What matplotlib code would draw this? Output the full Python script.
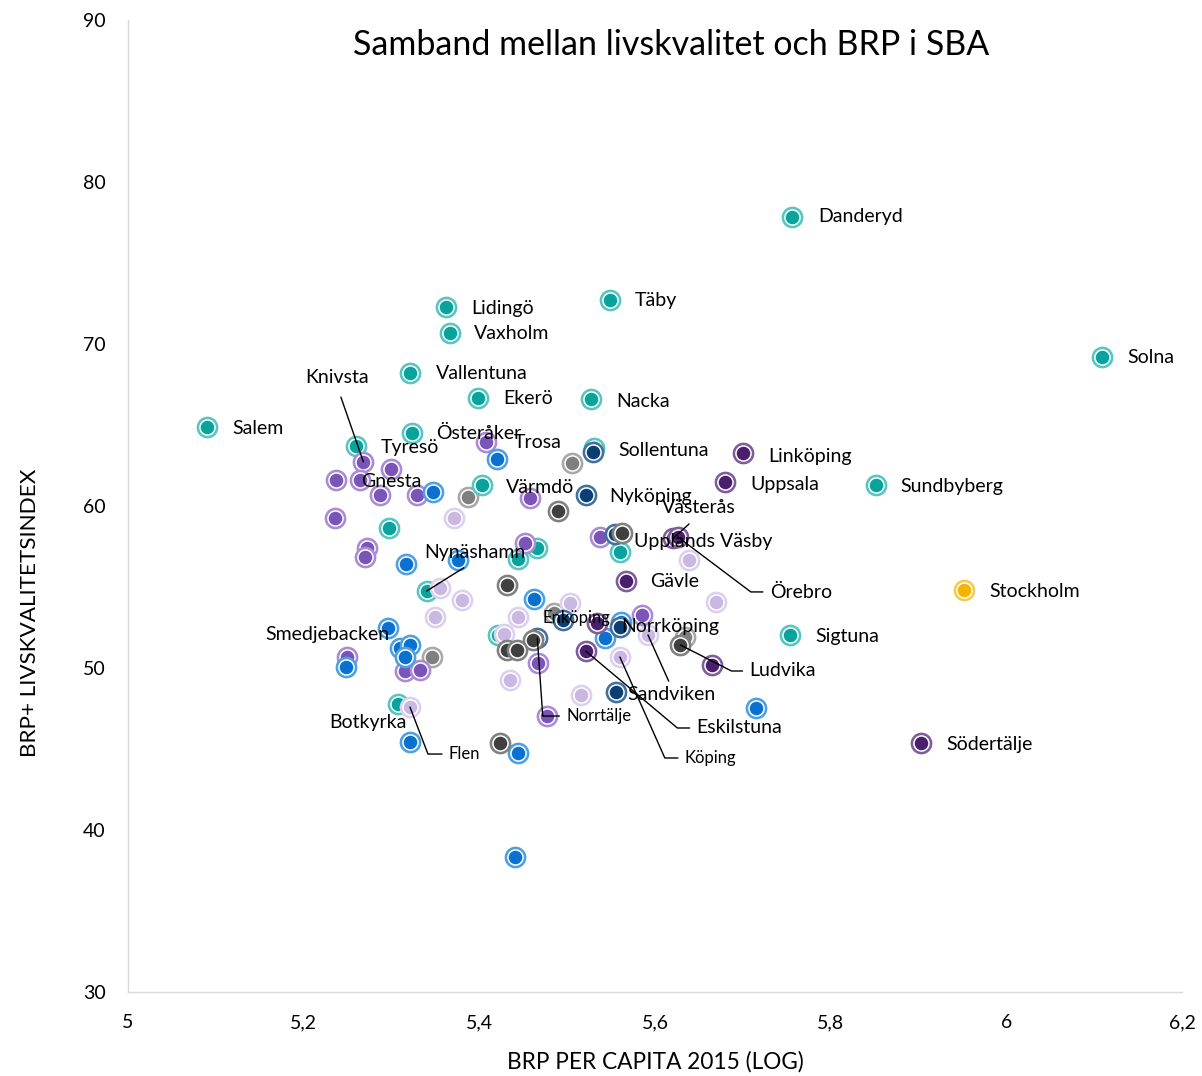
import matplotlib.pyplot as plt

plt.rcParams['font.family'] = ['Lato', 'DejaVu Sans']

# BRP per capita 2015 (log10) vs BRP+ livskvalitetsindex, one list per marker colour
teal_x = [5.756, 5.549, 5.362, 5.367, 6.109, 5.321, 5.399, 5.527, 5.090, 5.323, 5.260,
          5.531, 5.852, 5.403, 5.297, 5.466, 5.444, 5.560, 5.340, 5.421, 5.754, 5.307]
teal_y = [77.84, 72.72, 72.28, 70.68, 69.20, 68.21, 66.67, 66.60, 64.88, 64.51, 63.70,
          63.58, 61.30, 61.30, 58.64, 57.41, 56.73, 57.16, 54.75, 52.04, 52.04, 47.78]
teal_names = ['Danderyd', 'Täby', 'Lidingö', 'Vaxholm', 'Solna', 'Vallentuna', 'Ekerö',
              'Nacka', 'Salem', 'Österåker', 'Tyresö', 'Sollentuna', 'Sundbyberg', 'Värmdö',
              '', '', '', 'Upplands Väsby', 'Nynäshamn', '', 'Sigtuna', 'Botkyrka']

purple_x = [5.408, 5.268, 5.299, 5.237, 5.264, 5.287, 5.329, 5.458, 5.236, 5.452, 5.272,
            5.270, 5.537, 5.585, 5.249, 5.315, 5.332, 5.467, 5.477]
purple_y = [63.95, 62.72, 62.28, 61.60, 61.60, 60.68, 60.68, 60.49, 59.26, 57.72, 57.41,
            56.85, 58.09, 53.27, 50.68, 49.81, 49.88, 50.31, 47.04]
purple_names = ['Trosa', 'Knivsta', '', 'Gnesta', '', '', '', '', '', '', '',
                '', '', '', 'Smedjebacken', '', '', '', '']

lilac_x = [5.371, 5.639, 5.669, 5.355, 5.380, 5.503, 5.350, 5.444, 5.428, 5.592, 5.560,
           5.435, 5.516, 5.321]
lilac_y = [59.26, 56.67, 54.07, 54.94, 54.20, 54.01, 53.15, 53.15, 52.10, 52.04, 50.68,
           49.26, 48.33, 47.59]
lilac_names = ['', '', '', '', '', '', '', '', '', 'Sandviken', 'Köping', '', '', 'Flen']

blue_x = [5.420, 5.347, 5.317, 5.376, 5.462, 5.296, 5.310, 5.321, 5.315, 5.248, 5.561,
          5.543, 5.715, 5.321, 5.444, 5.441]
blue_y = [62.90, 60.86, 56.42, 56.67, 54.26, 52.47, 51.23, 51.42, 50.68, 50.06, 52.84,
          51.85, 47.53, 45.43, 44.75, 38.33]
blue_names = [''] * len(blue_x)

navy_x = [5.529, 5.521, 5.554, 5.495, 5.560, 5.466, 5.556]
navy_y = [63.33, 60.68, 58.27, 52.96, 52.53, 51.85, 48.52]
navy_names = ['', 'Nyköping', '', '', '', 'Norrtälje', '']

dgray_x = [5.490, 5.562, 5.432, 5.461, 5.432, 5.443, 5.629, 5.424]
dgray_y = [59.69, 58.33, 55.12, 51.73, 51.11, 51.11, 51.42, 45.37]
dgray_names = ['', '', '', '', '', '', 'Ludvika', '']

mgray_x = [5.506, 5.387, 5.485, 5.346, 5.634]
mgray_y = [62.65, 60.56, 53.40, 50.68, 51.91]
mgray_names = ['', '', 'Enköping', '', '']

dpurple_x = [5.700, 5.680, 5.621, 5.626, 5.567, 5.534, 5.521, 5.665, 5.903]
dpurple_y = [63.27, 61.48, 58.02, 58.09, 55.37, 52.78, 51.05, 50.19, 45.37]
dpurple_names = ['Linköping', 'Uppsala', 'Västerås', 'Örebro', 'Gävle', 'Norrköping',
                 'Eskilstuna', '', 'Södertälje']

gold_x = [5.952]
gold_y = [54.81]
gold_names = ['Stockholm']

# (x, y, names, core colour, ring colour) in drawing order
groups = [
    (mgray_x, mgray_y, mgray_names, '#7F7F7F', '#A8A8A8'),
    (teal_x, teal_y, teal_names, '#08A39C', '#55C6C2'),
    (lilac_x, lilac_y, lilac_names, '#C9B8E1', '#DDD0EF'),
    (purple_x, purple_y, purple_names, '#7B54B9', '#A98BD6'),
    (blue_x, blue_y, blue_names, '#0A71D0', '#4DA0E1'),
    (navy_x, navy_y, navy_names, '#0B3F74', '#41709E'),
    (dgray_x, dgray_y, dgray_names, '#404040', '#808080'),
    (dpurple_x, dpurple_y, dpurple_names, '#4A1F6E', '#7F5D9B'),
    (gold_x, gold_y, gold_names, '#F5B400', '#F8C94A'),
]

BIG, SMALL = 14, 12
# label placement: offset in pixels (dx, dy), font size, leader type, angle of leader at point
label_style = {
    'Danderyd': (26, 0, BIG, None, 0), 'Täby': (25, -1, BIG, None, 0),
    'Lidingö': (25, -1, BIG, None, 0), 'Vaxholm': (24, -1, BIG, None, 0),
    'Solna': (25, -1, BIG, None, 0), 'Vallentuna': (26, -1, BIG, None, 0),
    'Ekerö': (25, -1, BIG, None, 0), 'Nacka': (25, -2, BIG, None, 0),
    'Salem': (25, -2, BIG, None, 0), 'Österåker': (24, 0, BIG, None, 0),
    'Trosa': (27, 0, BIG, None, 0), 'Tyresö': (24, -1, BIG, None, 0),
    'Sollentuna': (24, -2, BIG, None, 0), 'Linköping': (25, -3, BIG, None, 0),
    'Uppsala': (25, -2, BIG, None, 0), 'Sundbyberg': (24, -2, BIG, None, 0),
    'Gnesta': (25, -1, BIG, None, 0), 'Värmdö': (24, -3, BIG, None, 0),
    'Nyköping': (24, -2, BIG, None, 0), 'Upplands Väsby': (14, 11, BIG, None, 0),
    'Gävle': (24, 0, BIG, None, 0), 'Norrköping': (24, -4, BIG, None, 0),
    'Enköping': (-11, -5, SMALL, None, 0), 'Stockholm': (25, -1, BIG, None, 0),
    'Sigtuna': (25, -2, BIG, None, 0), 'Smedjebacken': (-81, 22, BIG, None, 0),
    'Botkyrka': (-68, -19, BIG, None, 0), 'Södertälje': (25, -1, BIG, None, 0),
    'Nynäshamn': (-2, 39, BIG, 'down', 0), 'Knivsta': (-58, 84, BIG, 'down', 0),
    'Västerås': (-12, 31, BIG, 'down', 0), 'Sandviken': (-21, -60, BIG, 'up', 0),
    'Örebro': (92, -55, BIG, 'elbow', -37), 'Eskilstuna': (111, -77, BIG, 'elbow', -40),
    'Köping': (65, -101, SMALL, 'elbow', -66), 'Norrtälje': (29, -78, SMALL, 'elbow', -86),
    'Flen': (39, -47, SMALL, 'elbow', -69), 'Ludvika': (69, -26, BIG, 'elbow', -27),
}

fig = plt.figure(figsize=(12.02, 10.76), dpi=100)
ax = fig.add_axes([128 / 1202, 1 - 992 / 1076, 1054 / 1202, 972 / 1076])

for xs, ys, names, core, ring in groups:
    for x, y in zip(xs, ys):
        ax.scatter([x], [y], s=245, color=ring, linewidths=0, zorder=2)
        ax.scatter([x], [y], s=118, color=core, edgecolors='white', linewidths=1.1, zorder=2)

for xs, ys, names, core, ring in groups:
    for x, y, name in zip(xs, ys, names):
        if not name:
            continue
        dx, dy, size, kind, ang = label_style[name]
        arrow = None
        if kind == 'down':
            arrow = dict(arrowstyle='-', color='black', lw=1, relpos=(0.5, 0),
                         shrinkA=6, shrinkB=0)
        elif kind == 'up':
            arrow = dict(arrowstyle='-', color='black', lw=1, relpos=(0.5, 1),
                         shrinkA=2, shrinkB=0)
        elif kind == 'elbow':
            arrow = dict(arrowstyle='-', color='black', lw=1, relpos=(0, 0.5),
                         shrinkA=3, shrinkB=0,
                         connectionstyle=f'angle,angleA=0,angleB={ang},rad=0')
        ax.annotate(name, xy=(x, y), xytext=(dx, dy), textcoords='offset pixels',
                    ha='left', va='center', fontsize=size, color='black',
                    arrowprops=arrow, zorder=4)

ax.set_xlim(5, 6.2)
ax.set_ylim(30, 90)
ax.set_xticks([5, 5.2, 5.4, 5.6, 5.8, 6, 6.2])
ax.set_xticklabels(['5', '5,2', '5,4', '5,6', '5,8', '6', '6,2'])
ax.set_yticks([30, 40, 50, 60, 70, 80, 90])
ax.tick_params(length=0, labelsize=14, pad=16, colors='black')
for side in ['top', 'right']:
    ax.spines[side].set_visible(False)
for side in ['left', 'bottom']:
    ax.spines[side].set_color('#D9D9D9')
    ax.spines[side].set_linewidth(1)

fig.text(671 / 1202, 1 - 45 / 1076, 'Samband mellan livskvalitet och BRP i SBA',
         ha='center', va='center', fontsize=24.5)
fig.text(655 / 1202, 1 - 1062 / 1076, 'BRP PER CAPITA 2015 (LOG)',
         ha='center', va='center', fontsize=16.3)
fig.text(30 / 1202, 1 - 613 / 1076, 'BRP+ LIVSKVALITETSINDEX',
         ha='center', va='center', rotation=90, fontsize=16.2)

fig.savefig('out.png', dpi=100)
